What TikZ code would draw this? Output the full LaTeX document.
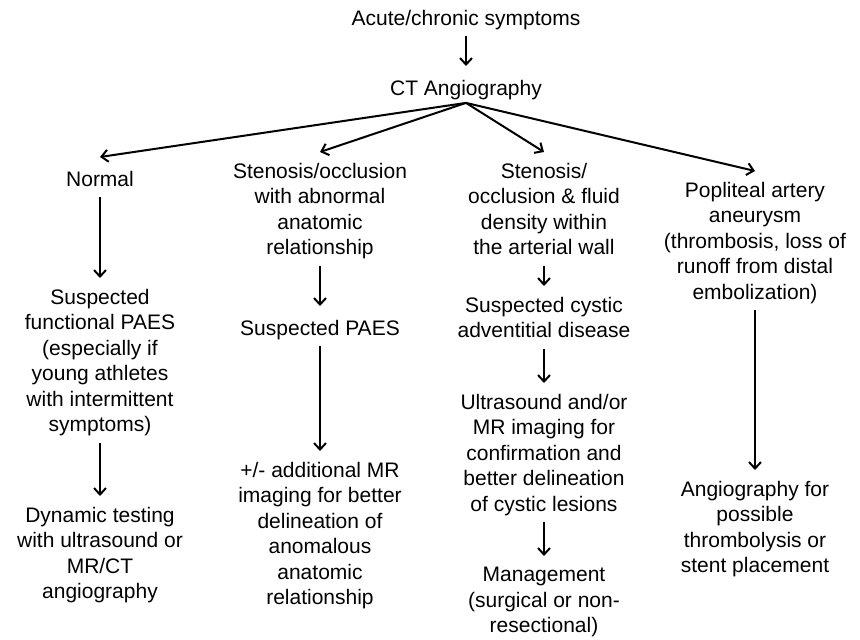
\documentclass[tikz,border=0pt]{standalone}
\usepackage{fontspec}
\setmainfont{Liberation Sans}
\usetikzlibrary{arrows.meta}
\tikzset{txt/.style={font=\fontsize{21}{25.5}\selectfont,align=center,inner sep=0pt,anchor=north,
  execute at begin node=\strut,execute at end node=\strut},
  flow/.style={line width=2pt,-{Straight Barb[length=6.5pt,width=12pt]},shorten <=3pt,shorten >=11pt},
  fan/.style={line width=2pt,-{Straight Barb[length=6.5pt,width=12pt]}}}
\begin{document}
\begin{tikzpicture}[x=1pt,y=-1pt]
\useasboundingbox (0,0) rectangle (860,640);
\node[txt] (acute) at (466,7) {Acute/chronic symptoms};
\node[txt] (cta) at (466,77) {CT Angiography};
% first level
\node[txt] (normal) at (100,168) {Normal};
\node[txt] (sten) at (320,163) {Stenosis/occlusion\\with abnormal\\anatomic\\relationship};
\node[txt] (fluid) at (544,163) {Stenosis/\\occlusion \& fluid\\density within\\the arterial wall};
\node[txt] (aneur) at (755,182) {Popliteal artery\\aneurysm\\(thrombosis, loss of\\runoff from distal\\embolization)};
% lower levels
\node[txt] (funcpaes) at (100,289) {Suspected\\functional PAES\\(especially if\\young athletes\\with intermittent\\symptoms)};
\node[txt] (dyntest) at (100,507) {Dynamic testing\\with ultrasound or\\MR/CT\\angiography};
\node[txt] (paes) at (320,317) {Suspected PAES};
\node[txt] (addmr) at (320,462) {+/- additional MR\\imaging for better\\delineation of\\anomalous\\anatomic\\relationship};
\node[txt] (cad) at (544,297) {Suspected cystic\\adventitial disease};
\node[txt] (usmr) at (544,394) {Ultrasound and/or\\MR imaging for\\confirmation and\\better delineation\\of cystic lesions};
\node[txt] (mgmt) at (544,567) {Management\\(surgical or non-\\resectional)};
\node[txt] (angio) at (755,481) {Angiography for\\possible\\thrombolysis or\\stent placement};

\draw[flow] (acute) -- (cta);
\foreach \n in {normal,sten,fluid,aneur}
  \draw[fan] (cta.south) -- ([yshift=11pt]\n.north);
\draw[flow] (normal) -- (funcpaes);
\draw[flow] (funcpaes) -- (dyntest);
\draw[flow] (sten) -- (paes);
\draw[flow] (paes) -- (addmr);
\draw[flow] (fluid) -- (cad);
\draw[flow] (cad) -- (usmr);
\draw[flow] (usmr) -- (mgmt);
\draw[flow] (aneur) -- (angio);
\end{tikzpicture}
\end{document}
